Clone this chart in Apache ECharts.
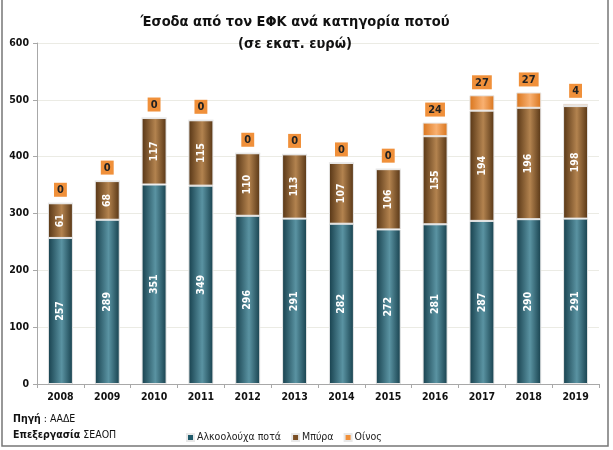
<!DOCTYPE html>
<html><head><meta charset="utf-8">
<script src="https://cdn.jsdelivr.net/npm/echarts@6/dist/echarts.min.js"></script>
<style>html,body{margin:0;padding:0;background:#fff}#c{width:613px;height:450px}</style>
</head><body><div id="c"></div>
<script>
var years = ['2008','2009','2010','2011','2012','2013','2014','2015','2016','2017','2018','2019'];
var alcohol = [257,289,351,349,296,291,282,272,281,287,290,291];
var beer = [61,68,117,115,110,113,107,106,155,194,196,198];
var wine = [0,0,0,0,0,0,0,0,24,27,27,4];
var seriesNames = ['Αλκοολούχα ποτά','Μπύρα','Οίνος'];
var yTicks = {min:0, max:600, interval:100};

var FONT = '"DejaVu Sans Condensed","Liberation Sans",sans-serif';
function grad(dark, light){
  return new echarts.graphic.LinearGradient(0,0,1,0,[
    {offset:0,color:dark},{offset:0.55,color:light},{offset:1,color:dark}]);
}
var chart = echarts.init(document.getElementById('c'), null, {renderer:'canvas'});
var innerLabel = {show:true, position:'inside', rotate:90, color:'#fff', fontWeight:'bold', fontSize:10.5, fontFamily:FONT};
chart.setOption({
  animation:false,
  title:{
    text:'Έσοδα από τον ΕΦΚ ανά κατηγορία ποτού\n(σε εκατ. ευρώ)',
    left:290, top:6, textAlign:'center',
    textStyle:{fontFamily:FONT, fontWeight:'bold', fontSize:14.5, color:'#111', lineHeight:22}
  },
  grid:{left:37, right:14, top:43, bottom:66, containLabel:false},
  legend:{
    left:181, top:427, itemWidth:7, itemHeight:7, itemGap:10, icon:'rect',
    textStyle:{fontFamily:FONT, fontSize:10.5, color:'#222', padding:[0,0,0,-2]},
    data:[
      {name:seriesNames[0], itemStyle:{color:'#1f5a6a'}},
      {name:seriesNames[1], itemStyle:{color:'#7a4e24'}},
      {name:seriesNames[2], itemStyle:{color:'#f0903a'}}
    ]
  },
  xAxis:{
    type:'category', data:years, boundaryGap:true,
    axisLine:{lineStyle:{color:'#a8a8a8'}},
    axisTick:{show:true, length:4, lineStyle:{color:'#a8a8a8'}},
    axisLabel:{fontFamily:FONT, fontWeight:'bold', fontSize:10.5, color:'#111', margin:8}
  },
  yAxis:{
    type:'value', min:yTicks.min, max:yTicks.max, interval:yTicks.interval,
    axisLine:{show:true, lineStyle:{color:'#a8a8a8'}},
    axisTick:{show:true, length:4, lineStyle:{color:'#a8a8a8'}},
    splitLine:{lineStyle:{color:'#ebebe4'}},
    axisLabel:{fontFamily:FONT, fontWeight:'bold', fontSize:10.5, color:'#111', margin:8}
  },
  series:[
    {name:seriesNames[0], type:'bar', stack:'t', data:alcohol, barWidth:25,
     itemStyle:{color:grad('#163f4c','#5a93a2'), borderColor:'#e8e8e8', borderWidth:1},
     label:innerLabel},
    {name:seriesNames[1], type:'bar', stack:'t', data:beer,
     itemStyle:{color:grad('#553414','#b3834f'), borderColor:'#e8e8e8', borderWidth:1},
     label:innerLabel},
    {name:seriesNames[2], type:'bar', stack:'t', data:wine,
     itemStyle:{color:grad('#d8741c','#f9b070'), borderColor:'#e8e8e8', borderWidth:1},
     label:{show:true, position:'top', distance:6, color:'#222', fontWeight:'bold', fontSize:11,
            fontFamily:FONT, backgroundColor:'#f0903a', padding:[2,3,1,3]}}
  ],
  graphic:[
    {type:'rect', shape:{x:2,y:-5,width:606,height:451}, style:{fill:'none', stroke:'#777', lineWidth:1.5}, silent:true},
    {type:'text', left:13, top:411, style:{
      text:'{b|Πηγή} : ΑΑΔΕ\n{b|Επεξεργασία} ΣΕΑΟΠ',
      font:'10.5px '+FONT, fill:'#111', lineHeight:16,
      rich:{b:{fontWeight:'bold', fontFamily:FONT, fontSize:10.5, fill:'#111'}}
    }}
  ]
});
</script></body></html>
